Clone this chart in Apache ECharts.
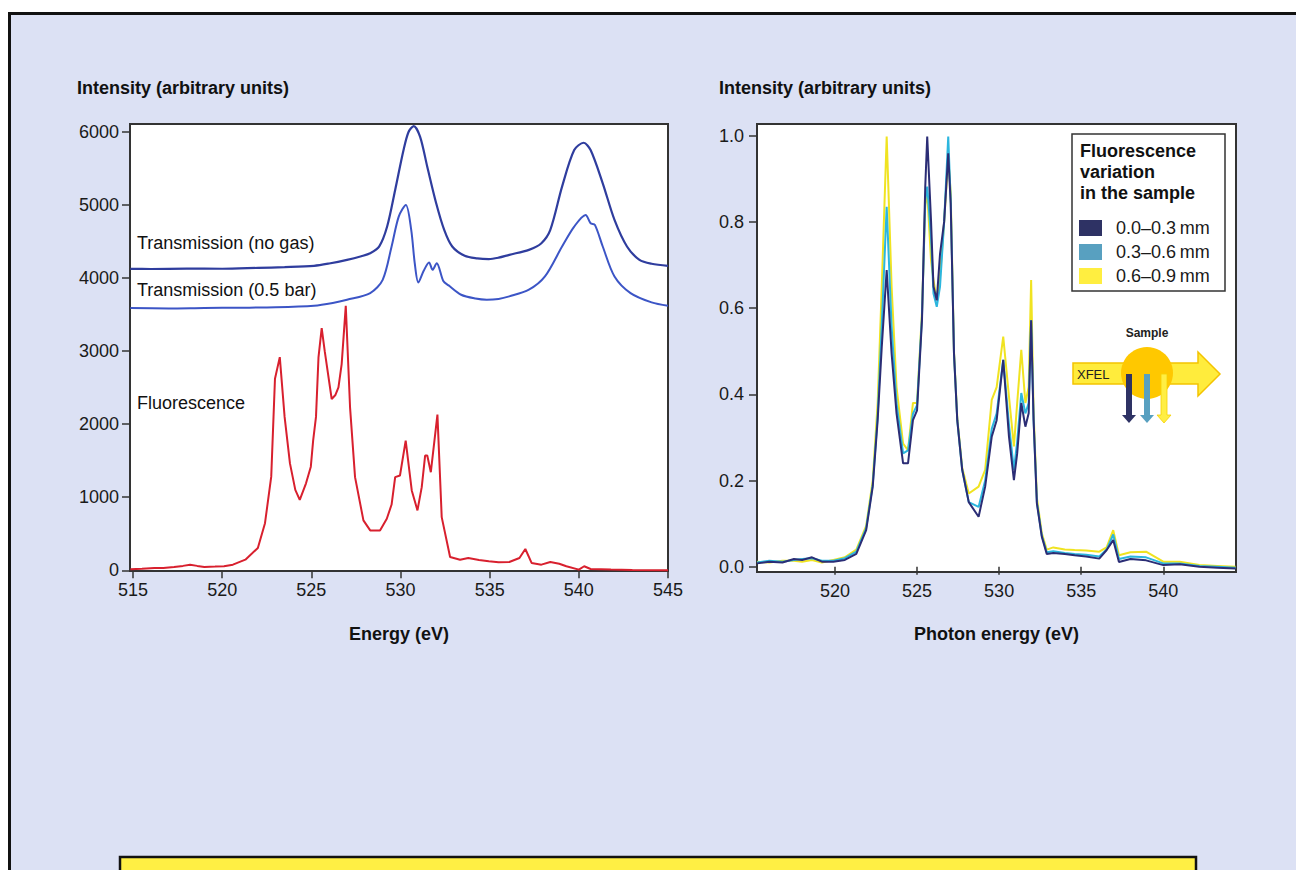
<!DOCTYPE html>
<html>
<head>
<meta charset="utf-8">
<script src="https://cdn.jsdelivr.net/npm/echarts@6/dist/echarts.min.js"></script>
<style>
html, body { margin: 0; padding: 0; background: #fff; }
#chart { width: 1296px; height: 870px; }
</style>
</head>
<body>
<div id="chart"></div>
<script>
// left panel: [energy eV, counts]
const transNoGas = [
  [514.85, 4127], [516, 4125], [518, 4130], [520, 4128], [522, 4140], [523.5, 4150],
  [525.15, 4168], [526, 4200], [527, 4250], [527.8, 4300], [528.3, 4340], [528.8, 4430],
  [529.25, 4706], [529.7, 5207], [530.17, 5753], [530.45, 6000], [530.74, 6081], [531.1, 5935],
  [531.5, 5525], [532.0, 5025], [532.45, 4660], [532.9, 4433], [533.6, 4305], [534.3, 4270],
  [534.95, 4260], [535.5, 4280], [536.1, 4319], [537.2, 4387], [537.9, 4478], [538.4, 4660],
  [539.06, 5252], [539.74, 5753], [540.27, 5853], [540.66, 5753], [541.34, 5298], [542.0, 4797],
  [542.7, 4433], [543.4, 4250], [544.08, 4196], [545, 4168]
];
const trans05Bar = [
  [514.85, 3590], [517, 3585], [519, 3592], [521, 3595], [523, 3600], [525.15, 3622],
  [526.2, 3660], [527, 3704], [528.3, 3795], [529.0, 3977], [529.5, 4433], [529.9, 4842],
  [530.3, 5002], [530.6, 4660], [530.8, 4200], [531.0, 3941], [531.3, 4100], [531.6, 4214],
  [531.8, 4114], [532.03, 4205], [532.4, 3960], [532.7, 3900], [533.4, 3772], [534.2, 3720],
  [534.84, 3704], [535.5, 3715], [536.1, 3750], [537.2, 3841], [538.1, 4023], [539.06, 4433],
  [539.74, 4706], [540.38, 4865], [540.66, 4751], [540.9, 4729], [541.34, 4433], [542.0, 4023],
  [542.9, 3795], [544.08, 3668], [545, 3622]
];
const fluorescence = [
  [514.85, 15], [515.5, 20], [516.2, 30], [516.7, 32], [517.3, 45], [517.8, 60], [518.2, 77],
  [518.6, 60], [519.0, 45], [519.6, 50], [520.1, 55], [520.6, 77], [521.3, 145], [522.0, 305],
  [522.4, 645], [522.75, 1282], [522.96, 2623], [523.23, 2918], [523.5, 2100], [523.8, 1463],
  [524.1, 1100], [524.35, 964], [524.7, 1191], [524.97, 1418], [525.1, 1776], [525.26, 2100],
  [525.4, 2914], [525.58, 3315], [525.75, 3000], [526.14, 2345], [526.35, 2400], [526.52, 2505],
  [526.7, 2823], [526.93, 3620], [527.17, 2231], [527.45, 1275], [527.92, 683], [528.3, 546],
  [528.85, 546], [529.23, 706], [529.5, 900], [529.7, 1275], [529.97, 1298], [530.29, 1776],
  [530.63, 1093], [530.95, 820], [531.19, 1138], [531.38, 1571], [531.5, 1571], [531.7, 1343],
  [532.07, 2131], [532.31, 728], [532.78, 182], [533.34, 145], [533.8, 168], [534.4, 140],
  [534.95, 123], [535.5, 110], [536.1, 114], [536.67, 168], [537.0, 291], [537.35, 100],
  [537.9, 77], [538.4, 114], [538.9, 90], [539.3, 55], [540.0, 9], [540.3, 55], [540.66, 18],
  [541.8, 9], [543, 5], [545, 0]
];
const leftTicks = [515, 520, 525, 530, 535, 540, 545];
const leftYTicks = [0, 1000, 2000, 3000, 4000, 5000, 6000];

// right panel: shared energy grid, one intensity list per depth
const photonEnergy = [
  515.25, 516.0, 516.8, 517.5, 518.0, 518.6, 519.2, 519.9, 520.6, 521.3,
  521.9, 522.3, 522.6, 522.85, 523.15, 523.45, 523.75, 524.15, 524.45, 524.75,
  525.0, 525.3, 525.5, 525.62, 525.85, 526.0, 526.2, 526.4, 526.65, 526.9,
  527.05, 527.25, 527.45, 527.75, 528.15, 528.75, 529.15, 529.55, 529.85, 530.25,
  530.6, 530.9, 531.1, 531.35, 531.6, 531.8, 531.95, 532.1, 532.3, 532.6,
  532.9, 533.3, 534.0, 534.6, 535.3, 536.1, 536.55, 536.95, 537.3, 538.0,
  538.95, 540.0, 541.0, 542.2, 543.3, 544.4
];
const depth00to03 = [
  0.008, 0.012, 0.010, 0.018, 0.016, 0.022, 0.012, 0.012, 0.016, 0.030,
  0.085, 0.186, 0.340, 0.510, 0.688, 0.495, 0.356, 0.240, 0.240, 0.340,
  0.363, 0.572, 0.882, 0.998, 0.804, 0.650, 0.618, 0.726, 0.800, 0.959,
  0.843, 0.495, 0.340, 0.225, 0.150, 0.116, 0.186, 0.302, 0.340, 0.480,
  0.302, 0.201, 0.263, 0.380, 0.325, 0.356, 0.572, 0.340, 0.147, 0.070,
  0.030, 0.032, 0.030, 0.027, 0.024, 0.019, 0.039, 0.062, 0.011, 0.018,
  0.015, 0.004, 0.006, 0.000, -0.002, -0.004
];
const depth03to06 = [
  0.010, 0.014, 0.012, 0.016, 0.018, 0.020, 0.014, 0.014, 0.020, 0.035,
  0.090, 0.190, 0.350, 0.560, 0.835, 0.557, 0.380, 0.263, 0.270, 0.355,
  0.375, 0.580, 0.850, 0.882, 0.765, 0.634, 0.603, 0.650, 0.800, 0.998,
  0.850, 0.495, 0.340, 0.225, 0.150, 0.139, 0.200, 0.320, 0.356, 0.480,
  0.330, 0.225, 0.290, 0.403, 0.356, 0.380, 0.572, 0.340, 0.150, 0.072,
  0.034, 0.036, 0.032, 0.030, 0.028, 0.024, 0.040, 0.075, 0.018, 0.024,
  0.022, 0.008, 0.008, 0.002, 0.000, -0.002
];
const depth06to09 = [
  0.012, 0.010, 0.014, 0.014, 0.012, 0.016, 0.010, 0.016, 0.022, 0.040,
  0.095, 0.200, 0.380, 0.650, 0.998, 0.650, 0.417, 0.286, 0.270, 0.380,
  0.380, 0.590, 0.840, 0.867, 0.712, 0.665, 0.620, 0.673, 0.800, 0.950,
  0.867, 0.500, 0.345, 0.230, 0.170, 0.186, 0.225, 0.387, 0.417, 0.534,
  0.395, 0.279, 0.380, 0.503, 0.380, 0.417, 0.665, 0.360, 0.160, 0.078,
  0.040, 0.045, 0.040, 0.039, 0.038, 0.035, 0.045, 0.085, 0.027, 0.034,
  0.035, 0.012, 0.012, 0.004, 0.002, 0.000
];
const depthNames = ['0.0\u20130.3\u2009mm', '0.3\u20130.6\u2009mm', '0.6\u20130.9\u2009mm'];
const rightTicks = [520, 525, 530, 535, 540];
const rightYTicks = [0, 0.2, 0.4, 0.6, 0.8, 1.0];

const FONT = '"Liberation Sans", Arial, sans-serif';
const pair = ys => photonEnergy.map((e, i) => [e, ys[i]]);

const tick = { show: true, inside: false, length: 8, lineStyle: { color: '#333', width: 1.5 } };
const label = { color: '#1a1a1a', fontSize: 18, fontFamily: FONT };
const axisName = { color: '#111', fontSize: 18, fontWeight: 'bold', fontFamily: FONT };
const frame = { show: true, backgroundColor: '#fff', borderColor: '#333', borderWidth: 2 };

const option = {
  animation: false,
  backgroundColor: '#fff',
  textStyle: { fontFamily: FONT },
  title: [
    { text: 'Intensity (arbitrary units)', left: 77, top: 79, padding: 0, textStyle: axisName },
    { text: 'Intensity (arbitrary units)', left: 719, top: 79, padding: 0, textStyle: axisName }
  ],
  grid: [
    Object.assign({ left: 130, top: 124, width: 538, height: 447 }, frame),
    Object.assign({ left: 757, top: 124, width: 479, height: 448 }, frame)
  ],
  xAxis: [
    {
      gridIndex: 0, type: 'value', min: 514.83, max: 545,
      name: 'Energy (eV)', nameLocation: 'middle', nameGap: 54, nameTextStyle: axisName,
      axisLine: { show: false }, splitLine: { show: false },
      axisTick: Object.assign({ customValues: leftTicks }, tick),
      axisLabel: Object.assign({ customValues: leftTicks, margin: 10, formatter: v => String(v) }, label)
    },
    {
      gridIndex: 1, type: 'value', min: 515.25, max: 544.43,
      name: 'Photon energy (eV)', nameLocation: 'middle', nameGap: 53, nameTextStyle: axisName,
      axisLine: { show: false }, splitLine: { show: false },
      axisTick: Object.assign({ customValues: rightTicks }, tick),
      axisLabel: Object.assign({ customValues: rightTicks, margin: 10, formatter: v => String(v) }, label)
    }
  ],
  yAxis: [
    {
      gridIndex: 0, type: 'value', min: -10, max: 6110,
      axisLine: { show: false }, splitLine: { show: false },
      axisTick: Object.assign({ customValues: leftYTicks }, tick),
      axisLabel: Object.assign({ customValues: leftYTicks, margin: 11, formatter: v => String(v) }, label)
    },
    {
      gridIndex: 1, type: 'value', min: -0.012, max: 1.027,
      axisLine: { show: false }, splitLine: { show: false },
      axisTick: Object.assign({ customValues: rightYTicks }, tick),
      axisLabel: Object.assign({ customValues: rightYTicks, margin: 13, formatter: v => v.toFixed(1) }, label)
    }
  ],
  legend: {
    data: depthNames,
    selectedMode: false,
    orient: 'vertical',
    left: 1079, top: 219, padding: 0,
    icon: 'rect', itemWidth: 23, itemHeight: 16, itemGap: 6,
    textStyle: { fontSize: 18, lineHeight: 18, color: '#1a1a1a', fontFamily: FONT, padding: [0, 0, 0, 9] }
  },
  series: [
    {
      name: 'Transmission (no gas)', type: 'line', xAxisIndex: 0, yAxisIndex: 0,
      data: transNoGas, symbol: 'none', smooth: 0.3,
      lineStyle: { color: '#2f3d9e', width: 2.2 }
    },
    {
      name: 'Transmission (0.5 bar)', type: 'line', xAxisIndex: 0, yAxisIndex: 0,
      data: trans05Bar, symbol: 'none', smooth: 0.3,
      lineStyle: { color: '#3c55c6', width: 2 }
    },
    {
      name: 'Fluorescence', type: 'line', xAxisIndex: 0, yAxisIndex: 0,
      data: fluorescence, symbol: 'none',
      lineStyle: { color: '#d8202e', width: 2 }
    },
    {
      name: depthNames[2], type: 'line', xAxisIndex: 1, yAxisIndex: 1,
      data: pair(depth06to09), symbol: 'none',
      itemStyle: { color: '#ffee40' }, lineStyle: { color: '#f0e321', width: 2 }
    },
    {
      name: depthNames[1], type: 'line', xAxisIndex: 1, yAxisIndex: 1,
      data: pair(depth03to06), symbol: 'none',
      itemStyle: { color: '#58a0c0' }, lineStyle: { color: '#2cb6de', width: 2 }
    },
    {
      name: depthNames[0], type: 'line', xAxisIndex: 1, yAxisIndex: 1,
      data: pair(depth00to03), symbol: 'none',
      itemStyle: { color: '#2e3264' }, lineStyle: { color: '#2b2d75', width: 2 }
    }
  ],
  graphic: [
    // page frame and the cut-off caption box
    { type: 'rect', z: -10, shape: { x: 9.5, y: 13.5, width: 1400, height: 1000 },
      style: { fill: '#dce1f4', stroke: '#111', lineWidth: 3 } },
    { type: 'rect', z: -5, shape: { x: 120, y: 857, width: 1076, height: 40 },
      style: { fill: '#ffef44', stroke: '#111', lineWidth: 2.5 } },
    // curve labels in the left panel
    { type: 'text', z: 10, x: 137, y: 243, style: { text: 'Transmission (no gas)', fill: '#111', font: '18px ' + FONT, verticalAlign: 'middle' } },
    { type: 'text', z: 10, x: 137, y: 290, style: { text: 'Transmission (0.5 bar)', fill: '#111', font: '18px ' + FONT, verticalAlign: 'middle' } },
    { type: 'text', z: 10, x: 137, y: 403, style: { text: 'Fluorescence', fill: '#111', font: '18px ' + FONT, verticalAlign: 'middle' } },
    // legend box in the right panel
    { type: 'rect', z: 3, shape: { x: 1072, y: 134, width: 153, height: 157 },
      style: { fill: '#fff', stroke: '#333', lineWidth: 1.5 } },
    { type: 'text', z: 10, x: 1080, y: 140,
      style: { text: 'Fluorescence\nvariation\nin the sample', fill: '#111', font: 'bold 18px ' + FONT, lineHeight: 21, verticalAlign: 'top' } },
    // sample sketch
    { type: 'text', z: 10, x: 1147, y: 333, style: { text: 'Sample', fill: '#222', font: 'bold 12px ' + FONT, align: 'center', verticalAlign: 'middle' } },
    { type: 'polygon', z: 10,
      shape: { points: [[1073, 363], [1198, 363], [1198, 352], [1220, 374], [1198, 396], [1198, 384], [1073, 384]] },
      style: { fill: '#ffec3c', stroke: '#f4c300', lineWidth: 1.5 } },
    { type: 'circle', z: 11, shape: { cx: 1147, cy: 373, r: 26 }, style: { fill: '#ffc800' } },
    { type: 'text', z: 12, x: 1077, y: 374, style: { text: 'XFEL', fill: '#222', font: '13px ' + FONT, verticalAlign: 'middle' } },
    { type: 'polygon', z: 12,
      shape: { points: [[1126, 374], [1132, 374], [1132, 415], [1136, 415], [1129, 423], [1122, 415], [1126, 415]] },
      style: { fill: '#2e3264' } },
    { type: 'polygon', z: 12,
      shape: { points: [[1144, 374], [1150, 374], [1150, 415], [1154, 415], [1147, 423], [1140, 415], [1144, 415]] },
      style: { fill: '#58a0c0' } },
    { type: 'polygon', z: 12,
      shape: { points: [[1161, 374], [1167, 374], [1167, 415], [1171, 415], [1164, 423], [1157, 415], [1161, 415]] },
      style: { fill: '#ffee44', stroke: '#f6d000', lineWidth: 0.8 } }
  ]
};

const chart = echarts.init(document.getElementById('chart'), null, { renderer: 'svg' });
chart.setOption(option);
</script>
</body>
</html>
